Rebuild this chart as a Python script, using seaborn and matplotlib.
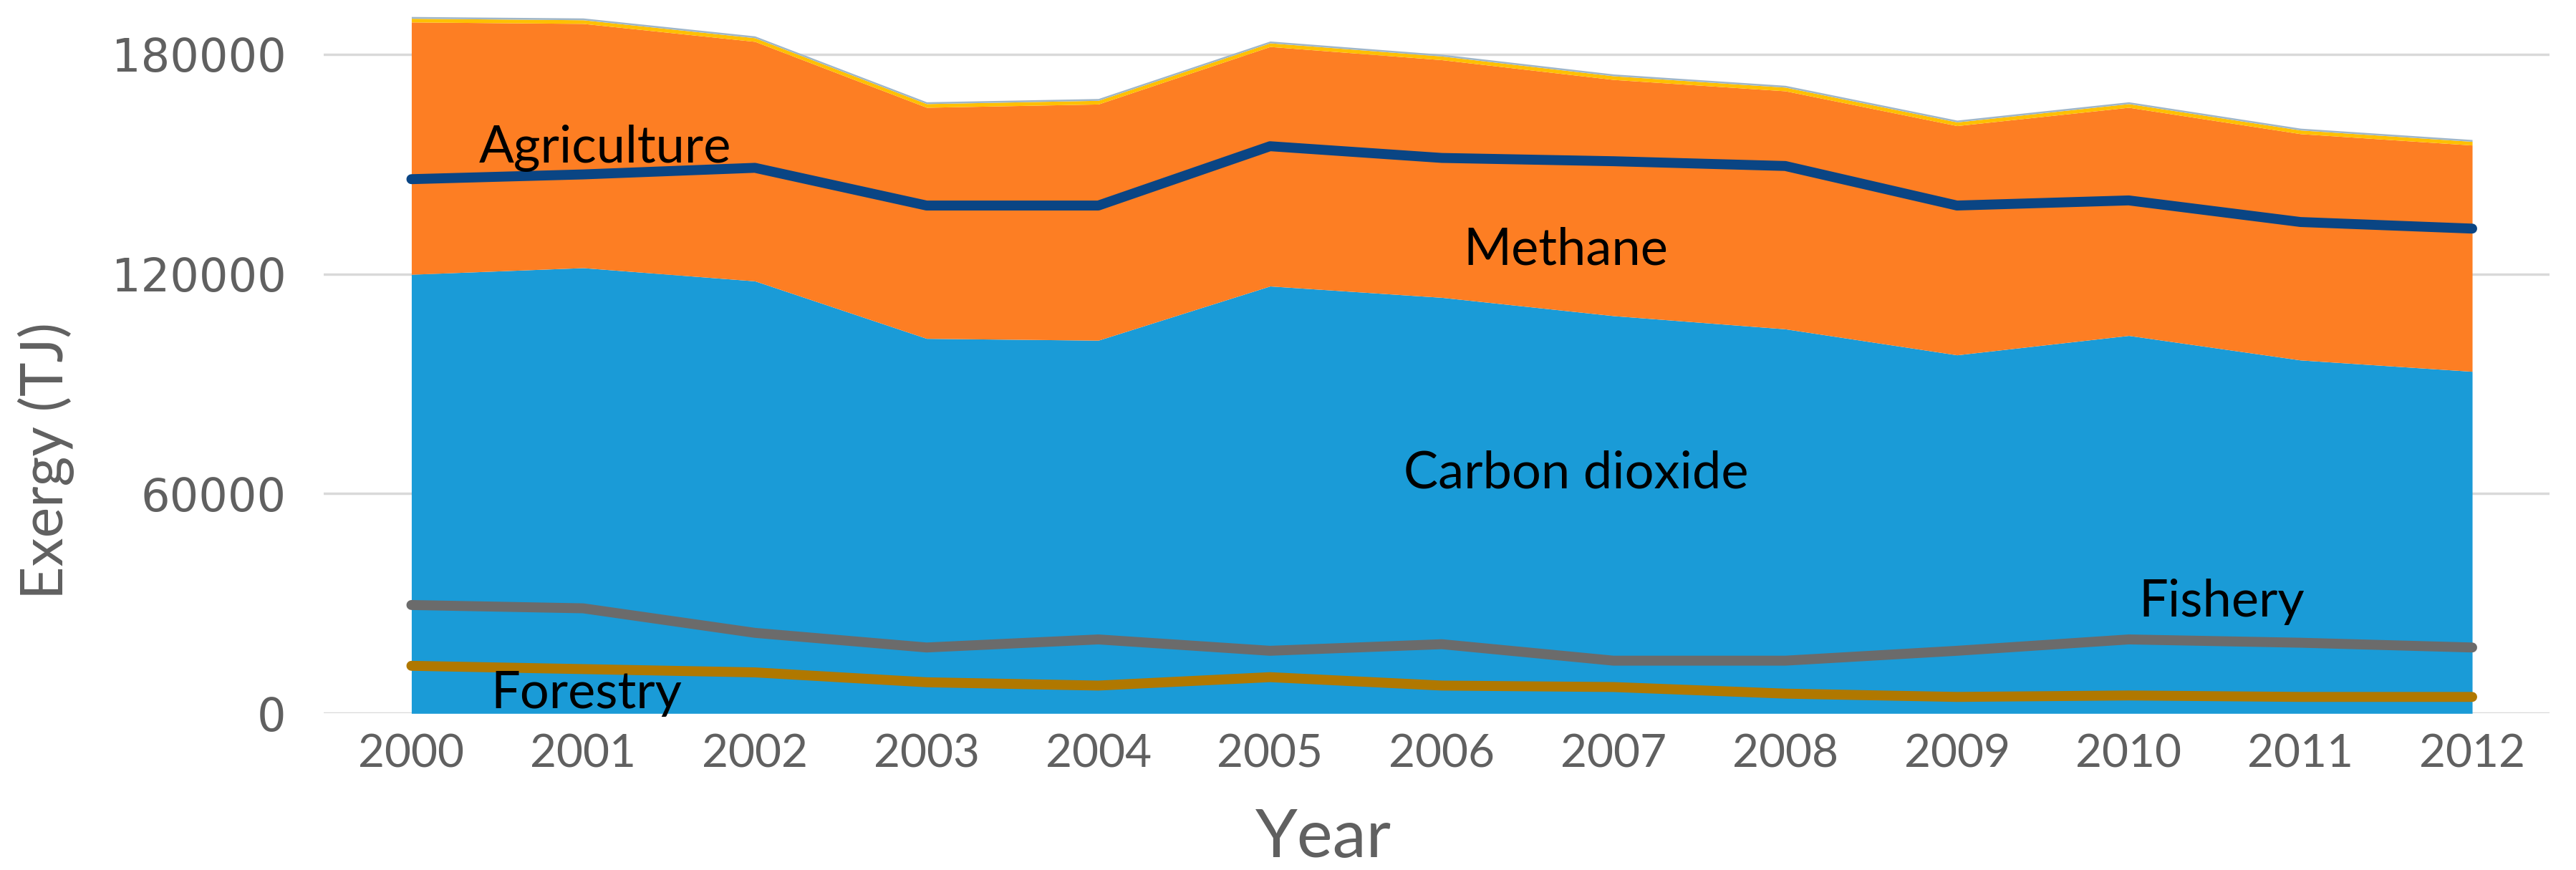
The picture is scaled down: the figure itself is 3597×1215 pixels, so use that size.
import numpy as np
import pandas as pd
import matplotlib
matplotlib.use('Agg')
import matplotlib.pyplot as plt
import seaborn as sns

years = [2000, 2001, 2002, 2003, 2004, 2005, 2006, 2007, 2008, 2009, 2010, 2011, 2012]

# stacked layers (TJ)
carbon_dioxide = [119900, 121700, 118100, 102400, 101900, 116700, 113600, 108600, 105000, 97900, 103200, 96500, 93400]
methane = [68900, 66700, 65400, 63100, 64500, 65400, 64900, 64500, 65000, 62600, 62300, 61800, 61800]
thin_yellow = [1000, 1000, 1000, 1000, 1000, 1000, 1000, 1000, 1000, 1000, 1000, 1000, 1000]
thin_grey = [500, 500, 500, 500, 500, 500, 500, 500, 500, 500, 500, 500, 500]

# sector lines (TJ)
agriculture = [145900, 147200, 149000, 138700, 138700, 154900, 151700, 150800, 149500, 138700, 140100, 134200, 132400]
fishery = [29600, 28700, 22000, 18000, 20200, 17100, 18900, 14400, 14400, 17100, 20200, 19300, 18000]
forestry = [13000, 12100, 11200, 8500, 7600, 9900, 7600, 7200, 5400, 4500, 4900, 4500, 4500]

yticks = [0, 60000, 120000, 180000]

lines = pd.DataFrame({'Year': years, 'Agriculture': agriculture,
                      'Fishery': fishery, 'Forestry': forestry})

sns.set_theme(style='white')
plt.rcParams['font.family'] = ['DejaVu Sans']

fig = plt.figure(figsize=(35.97, 12.15), dpi=100)
ax = fig.add_axes([0.1257, 0.180, 0.864, 0.8165])

ax.stackplot(years, carbon_dioxide, methane, thin_yellow, thin_grey,
             colors=['#1a9bd7', '#fd7e23', '#ffc000', '#9fb6c8'], linewidth=0)

sns.lineplot(data=lines, x='Year', y='Agriculture', ax=ax, color='#0a4584', lw=10,
             solid_capstyle='round')
sns.lineplot(data=lines, x='Year', y='Fishery', ax=ax, color='#6b6b6b', lw=10,
             solid_capstyle='round')
sns.lineplot(data=lines, x='Year', y='Forestry', ax=ax, color='#b07800', lw=10,
             solid_capstyle='round')

ax.set_xlim(1999.49, 2012.45)
ax.set_ylim(0, 194000)
ax.set_yticks(yticks)
ax.set_yticklabels([str(v) for v in yticks], fontsize=46, color='#606060')
ax.set_xticks(years)
ax.set_xticklabels([str(y) for y in years], fontsize=46, color='#606060', family='Lato')
ax.tick_params(axis='y', length=0, pad=38)
ax.tick_params(axis='x', length=0, pad=20)

ax.grid(axis='y', color='#d9d9d9', lw=2.5, zorder=0)
ax.set_axisbelow(True)
for s in ax.spines.values():
    s.set_visible(False)

ax.set_ylabel('Exergy (TJ)', fontsize=58, color='#606060', family='Lato')
ax.yaxis.set_label_coords(-0.112, 0.356)
ax.set_xlabel('Year', fontsize=68, color='#606060', family='Lato')
ax.xaxis.set_label_coords(0.449, -0.134)

lab = dict(fontsize=52, color='black', family='Lato', ha='center', va='center')
ax.text(2001.13, 154400, 'Agriculture', **lab)
ax.text(2006.72, 126600, 'Methane', **lab)
ax.text(2006.78, 65500, 'Carbon dioxide', **lab)
ax.text(2010.54, 30500, 'Fishery', **lab)
ax.text(2001.02, 5400, 'Forestry', **lab)

fig.savefig('out.png', dpi=100)
